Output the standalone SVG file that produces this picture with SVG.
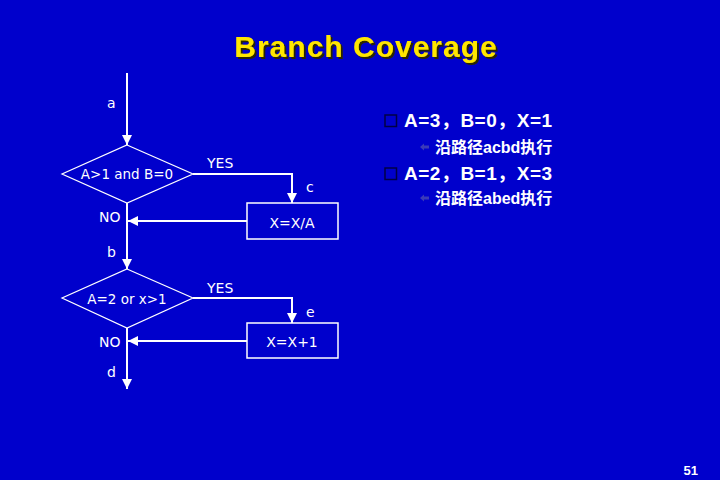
<svg xmlns="http://www.w3.org/2000/svg" width="720" height="480" viewBox="0 0 720 480">
  <defs>
    <marker id="arr" viewBox="0 0 10 10" refX="10" refY="5" markerWidth="5" markerHeight="5" orient="auto" markerUnits="strokeWidth">
      <path d="M0,0 L10,5 L0,10 Z" fill="#FFFFFF"/>
    </marker>
    <filter id="shadow" x="-5%" y="-20%" width="110%" height="140%">
      <feDropShadow dx="2" dy="2" stdDeviation="0.4" flood-color="#2A2600" flood-opacity="1"/>
    </filter>
    <style>
      .flow { font-family: "DejaVu Sans", Verdana, sans-serif; font-size: 14px; fill: #FFFFFF; }
      .mid { text-anchor: middle; }
      .line { stroke: #FFFFFF; stroke-width: 2; fill: none; }
      .shape { stroke: #FFFFFF; stroke-width: 1.2; fill: none; }
      .box { stroke: #FFFFFF; stroke-width: 1.5; fill: none; }
      .title { font-family: "Liberation Sans", Arial, sans-serif; font-weight: bold; font-size: 30px; letter-spacing: 1px; text-anchor: middle; fill: #FFE600; }
      .big { font-family: "Liberation Sans", Arial, "Noto Sans CJK SC", sans-serif; font-weight: bold; font-size: 19px; fill: #FFFFFF; letter-spacing: 0.5px; }
      .sub { font-family: "Liberation Sans", Arial, "Noto Sans CJK SC", sans-serif; font-weight: bold; font-size: 16px; fill: #FFFFFF; }
      .bullet { fill: none; stroke: #000044; stroke-width: 1.5; }
      .subbullet { fill: #3A3AB8; }
    </style>
  </defs>

  <rect x="0" y="0" width="720" height="480" fill="#0000CC"/>

  <g id="title">
    <text class="title" x="366" y="57" filter="url(#shadow)">Branch Coverage</text>
  </g>

  <g id="connectors">
    <path class="line" d="M127,73 L127,145" marker-end="url(#arr)"/>
    <path class="line" d="M193,174 L292,174 L292,203" marker-end="url(#arr)"/>
    <path class="line" d="M247,221 L128,221" marker-end="url(#arr)"/>
    <path class="line" d="M127,203 L127,269" marker-end="url(#arr)"/>
    <path class="line" d="M193,298 L292,298 L292,323" marker-end="url(#arr)"/>
    <path class="line" d="M247,341 L128,341" marker-end="url(#arr)"/>
    <path class="line" d="M127,328 L127,389" marker-end="url(#arr)"/>
  </g>

  <g id="edge-labels" class="flow">
    <text x="107" y="108">a</text>
    <text x="207" y="168">YES</text>
    <text x="306" y="192">c</text>
    <text x="99" y="222">NO</text>
    <text x="107" y="257">b</text>
    <text x="207" y="293">YES</text>
    <text x="306" y="317">e</text>
    <text x="99" y="347">NO</text>
    <text x="107" y="377">d</text>
  </g>

  <g id="decision1">
    <polygon class="shape" points="127,145 193,174 127,203 62,174"/>
    <text class="flow mid" x="127" y="179" style="font-size:13.5px">A&gt;1 and B=0</text>
  </g>

  <g id="process1">
    <rect class="box" x="247" y="203" width="91" height="36"/>
    <text class="flow mid" x="292" y="228">X=X/A</text>
  </g>

  <g id="decision2">
    <polygon class="shape" points="127,269 193,298 127,328 62,298"/>
    <text class="flow mid" x="127" y="304" style="font-size:13.5px">A=2 or x&gt;1</text>
  </g>

  <g id="process2">
    <rect class="box" x="247" y="323" width="91" height="35"/>
    <text class="flow mid" x="292" y="347">X=X+1</text>
  </g>

  <g id="cases">
    <rect class="bullet" x="385" y="115" width="11.5" height="11.5"/>
    <text class="big" x="404" y="127">A=3，B=0，X=1</text>
    <path class="subbullet" d="M420,147 L424,143.5 L424,145.5 L429,145.5 L429,148.5 L424,148.5 L424,150.5 Z"/>
    <text class="sub" x="435" y="153">沿路径acbd执行</text>
    <rect class="bullet" x="385" y="168" width="11.5" height="11.5"/>
    <text class="big" x="404" y="180">A=2，B=1，X=3</text>
    <path class="subbullet" d="M420,198 L424,194.5 L424,196.5 L429,196.5 L429,199.5 L424,199.5 L424,201.5 Z"/>
    <text class="sub" x="435" y="204">沿路径abed执行</text>
  </g>

  <g id="page-number">
    <text x="698" y="475" text-anchor="end" style="font-family:'Liberation Sans', Arial, sans-serif; font-weight:bold; font-size:13px; fill:#FFFFFF">51</text>
  </g>
</svg>
